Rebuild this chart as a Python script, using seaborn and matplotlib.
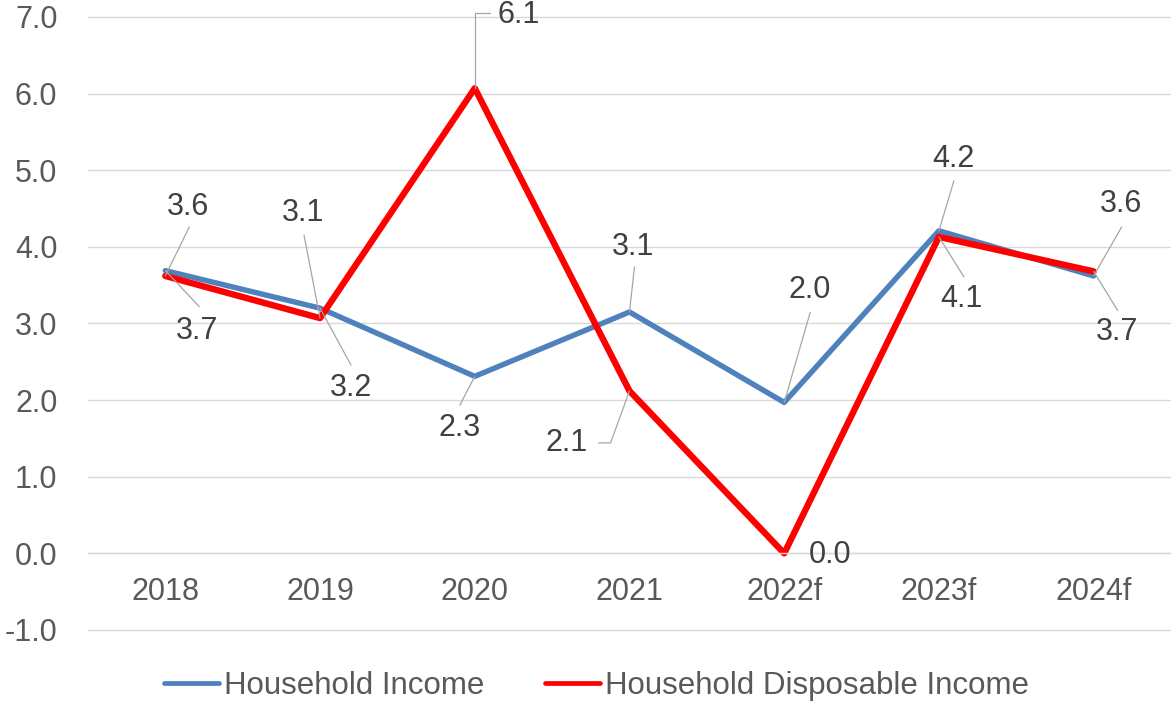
import pandas as pd
import matplotlib
matplotlib.use("Agg")
import matplotlib.pyplot as plt
import seaborn as sns
from matplotlib.lines import Line2D

# data
years = ["2018", "2019", "2020", "2021", "2022f", "2023f", "2024f"]
household_income = [3.69, 3.20, 2.31, 3.15, 1.97, 4.21, 3.62]
disposable_income = [3.62, 3.07, 6.07, 2.12, 0.0, 4.13, 3.68]

income_name = "Household Income"
disp_name = "Household Disposable Income"

df = pd.DataFrame({
    "year": years * 2,
    "value": household_income + disposable_income,
    "series": [income_name] * len(years) + [disp_name] * len(years),
})

colors = {income_name: "#4f81bd", disp_name: "#ff0000"}
widths = {income_name: 3.9, disp_name: 4.6}

# label placement in pixels relative to each point (x right, y up):
# series, index, text dx, text dy, leader dx, leader dy, connection style
label_pos = [
    (disp_name, 0, 23, 69, 24, 49, None),
    (income_name, 0, 32, -60, 34, -36, None),
    (disp_name, 1, -17, 105, -16, 83, None),
    (income_name, 1, 31, -80, 31, -57, None),
    (disp_name, 2, 44, 73, 15, 75, "angle,angleA=0,angleB=90,rad=0"),
    (income_name, 2, -15, -52, -15, -29, None),
    (income_name, 3, 4, 65, 5, 45, None),
    (disp_name, 3, -63, -52, -31, -52, "angle,angleA=0,angleB=70,rad=0"),
    (income_name, 4, 25, 112, 26, 90, None),
    (disp_name, 4, 46, -2, None, None, None),
    (income_name, 5, 14, 72, 15, 50, None),
    (disp_name, 5, 23, -62, 25, -40, None),
    (income_name, 6, 27, 72, 28, 49, None),
    (disp_name, 6, 23, -61, 24, -39, None),
]

sns.set_theme(style="white")
plt.rcParams["font.family"] = ["Liberation Sans", "DejaVu Sans"]

fig = plt.figure(figsize=(11.71, 7.02), dpi=100)
ax = fig.add_axes([0.0751, 0.1026, 0.9249, 0.8732])

for name in [income_name, disp_name]:
    sub = df[df["series"] == name]
    sns.lineplot(data=sub, x="year", y="value", color=colors[name],
                 lw=widths[name], sort=False, ax=ax, legend=False,
                 solid_joinstyle="round", solid_capstyle="round")

ax.set_xlim(-0.5, len(years) - 0.5)
ax.set_ylim(-1, 7)
ax.set_yticks(range(-1, 8))
ax.set_yticklabels([f"{v:.1f}" for v in range(-1, 8)])
ax.grid(axis="y", color="#d9d9d9", lw=1.0)
ax.grid(axis="x", visible=False)
for gl in ax.yaxis.get_gridlines():
    gl.set_clip_on(False)
ax.set_axisbelow(True)
for s in ["top", "right", "left"]:
    ax.spines[s].set_visible(False)
ax.spines["bottom"].set_position(("data", 0))
ax.spines["bottom"].set_color("#d9d9d9")
ax.spines["bottom"].set_linewidth(1.0)
ax.tick_params(axis="x", length=0, pad=17, labelsize=22, labelcolor="#595959")
ax.tick_params(axis="y", length=0, pad=22, labelsize=22, labelcolor="#595959")
ax.set_xlabel("")
ax.set_ylabel("")

values = {income_name: household_income, disp_name: disposable_income}
for name, i, tdx, tdy, ldx, ldy, conn in label_pos:
    v = values[name][i]
    if ldx is not None:
        ax.annotate("", xy=(i, v), xytext=(ldx, ldy), textcoords="offset pixels",
                    arrowprops=dict(arrowstyle="-", color="#a6a6a6", lw=0.9,
                                    shrinkA=0, shrinkB=0,
                                    connectionstyle=conn or "arc3"))
    ax.annotate(f"{v:.1f}", xy=(i, v), xytext=(tdx, tdy), textcoords="offset pixels",
                ha="center", va="center", fontsize=22, color="#404040")

handles = [Line2D([], [], color=colors[n], lw=3.4, solid_capstyle="round")
           for n in [income_name, disp_name]]
fig.legend(handles, [income_name, disp_name], loc="center",
           bbox_to_anchor=(0.5094, 0.0228), ncol=2, frameon=False,
           fontsize=22.5, labelcolor="#595959", handlelength=1.76,
           handletextpad=0.16, columnspacing=1.95, borderpad=0)

fig.savefig("out.png", dpi=100)
